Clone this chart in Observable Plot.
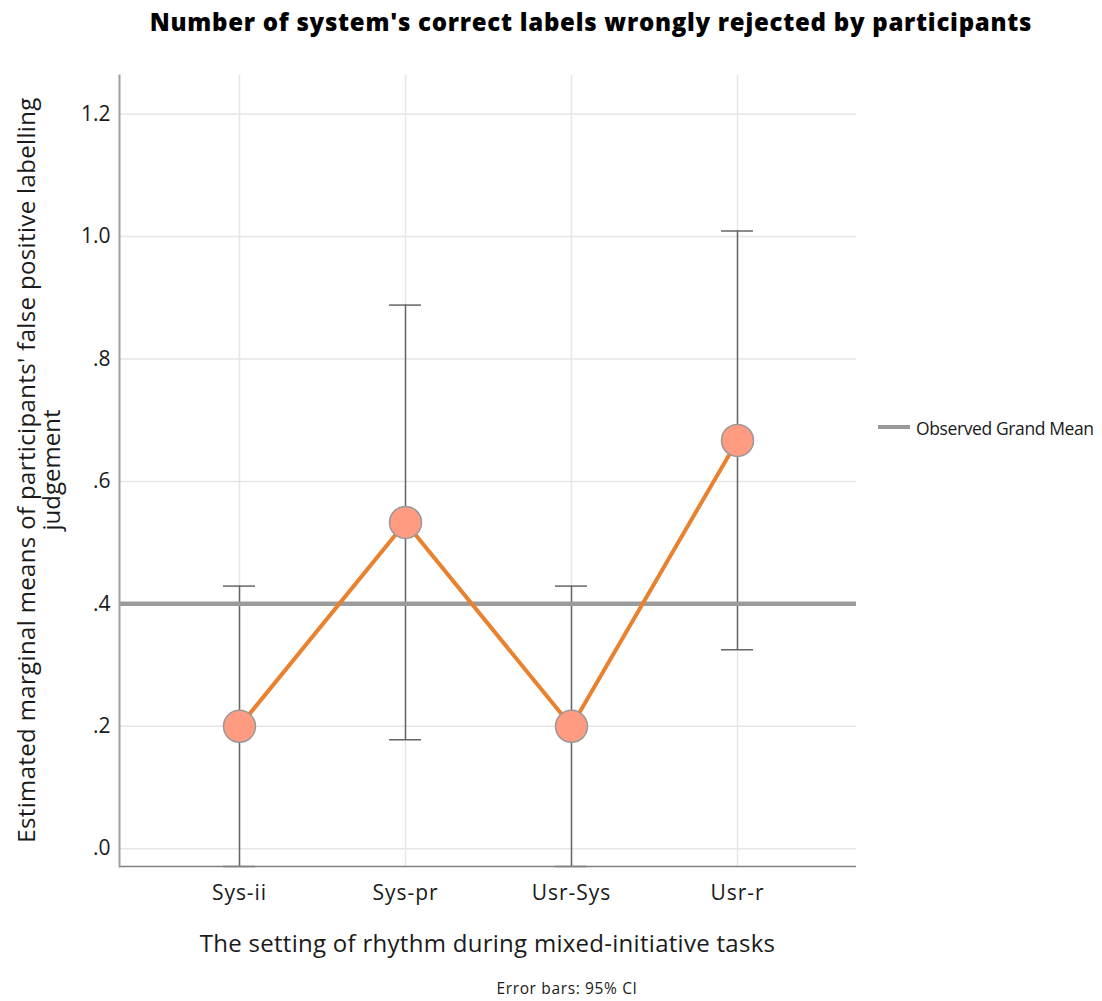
<!DOCTYPE html>
<html>
<head>
<meta charset="utf-8">
<script src="https://cdn.jsdelivr.net/npm/d3@7"></script>
<script src="https://cdn.jsdelivr.net/npm/@observablehq/plot@0.6"></script>
<style>
  body { margin: 0; background: #fff; }
  #wrap { position: relative; width: 1102px; height: 1001px; font-family: "Open Sans", Lato, sans-serif; color: #1a1a1a; }
  #wrap svg { position: absolute; left: 0; top: 0; }
  .abs { position: absolute; white-space: nowrap; line-height: 1; }
  .ctr { text-align: center; }
  #title { left: 0; width: 1182px; top: 10px; font-weight: 800; font-size: 24px; color: #000; }
  #xlab { left: 119px; width: 737px; top: 931px; font-size: 24px; }
  .ylab { top: 470px; transform: translate(-50%, -50%) rotate(-90deg); font-size: 24px; }
  #ylab1 { left: 26px; }
  #ylab2 { left: 51px; }
  #caption { left: 0; width: 1134px; top: 981px; font-size: 15.5px; }
  #legsw { left: 878px; top: 425px; width: 32px; height: 4px; background: #999; }
  #legtxt { left: 916px; top: 420px; font-size: 17.5px; }
</style>
</head>
<body>
<div id="wrap">
  <div id="title" class="abs ctr"><span>Number of system's correct labels wrongly rejected by participants</span></div>
  <div id="ylab1" class="abs ylab">Estimated marginal means of participants' false positive labelling</div>
  <div id="ylab2" class="abs ylab">judgement</div>
  <div id="xlab" class="abs ctr"><span>The setting of rhythm during mixed-initiative tasks</span></div>
  <div id="caption" class="abs ctr"><span>Error bars: 95% CI</span></div>
  <div id="legsw" class="abs"></div>
  <div id="legtxt" class="abs"><span>Observed Grand Mean</span></div>
</div>
<script>
const categories = ["Sys-ii", "Sys-pr", "Usr-Sys", "Usr-r"];
const means = [0.200, 0.533, 0.200, 0.667];
const ciLow = [-0.029, 0.178, -0.029, 0.325];
const ciHigh = [0.429, 0.888, 0.429, 1.009];
const grandMean = [0.400];
const yTicks = [0, 0.2, 0.4, 0.6, 0.8, 1.0, 1.2];

const data = categories.map((c, i) => ({cat: c, mean: means[i], lo: ciLow[i], hi: ciHigh[i]}));
const fmt = d => d < 1 ? d.toFixed(1).replace(/^0/, "") : d.toFixed(1);

const chart = Plot.plot({
  width: 1102,
  height: 1001,
  marginLeft: 119,
  marginRight: 246,
  marginTop: 75,
  marginBottom: 135,
  style: {fontFamily: "'Open Sans', Lato, sans-serif", fontSize: "21px", color: "#1a1a1a", background: "transparent"},
  x: {type: "point", domain: categories, padding: 0.713, label: null},
  y: {domain: [-0.029, 1.263], label: null},
  marks: [
    Plot.gridY(yTicks, {stroke: "#e6e6e6", strokeOpacity: 1, strokeWidth: 1.5}),
    Plot.gridX(categories, {stroke: "#e6e6e6", strokeOpacity: 1, strokeWidth: 1.5}),
    Plot.ruleX(data, {x: "cat", y1: "lo", y2: "hi", stroke: "#666", strokeWidth: 1.5}),
    Plot.ruleY(data, {x1: "cat", x2: "cat", y: "hi", stroke: "#666", strokeWidth: 1.5, insetLeft: -16, insetRight: -16}),
    Plot.ruleY(data, {x1: "cat", x2: "cat", y: "lo", stroke: "#666", strokeWidth: 1.5, insetLeft: -16, insetRight: -16}),
    Plot.ruleY(grandMean, {stroke: "#9b9b9b", strokeWidth: 4.5}),
    Plot.line(data, {x: "cat", y: "mean", stroke: "#e8822f", strokeWidth: 4}),
    Plot.dot(data, {x: "cat", y: "mean", r: 16, fill: "#ff9b80", stroke: "#999", strokeWidth: 1.5}),
    Plot.axisY({ticks: yTicks, tickFormat: fmt, tickSize: 0, tickPadding: 9, label: null}),
    Plot.axisX({tickSize: 0, tickPadding: 19, label: null}),
    Plot.ruleY([-0.029], {stroke: "#808080", strokeWidth: 1.5}),
    Plot.frame({anchor: "left", stroke: "#a0a0a0", strokeWidth: 2})
  ]
});
document.getElementById("wrap").appendChild(chart);

function fit(el, target) {
  el.style.letterSpacing = "0px";
  const w = el.offsetWidth;
  const n = el.textContent.length;
  el.style.letterSpacing = ((target - w) / (n - 1)) + "px";
}
function fitAll() {
  fit(document.querySelector("#title span"), 882);
  fit(document.querySelector("#xlab span"), 575);
  fit(document.getElementById("ylab1"), 745);
  fit(document.querySelector("#caption span"), 141);
  fit(document.querySelector("#legtxt span"), 178);
  const g = chart.querySelector('g[aria-label="x-axis tick label"]');
  if (g) {
    const texts = g.querySelectorAll("text");
    g.style.letterSpacing = "0px";
    const w = texts[1].getComputedTextLength();
    g.style.letterSpacing = ((65 - w) / 5) + "px";
  }
}
fitAll();
if (document.fonts && document.fonts.ready) document.fonts.ready.then(fitAll);
</script>
</body>
</html>
